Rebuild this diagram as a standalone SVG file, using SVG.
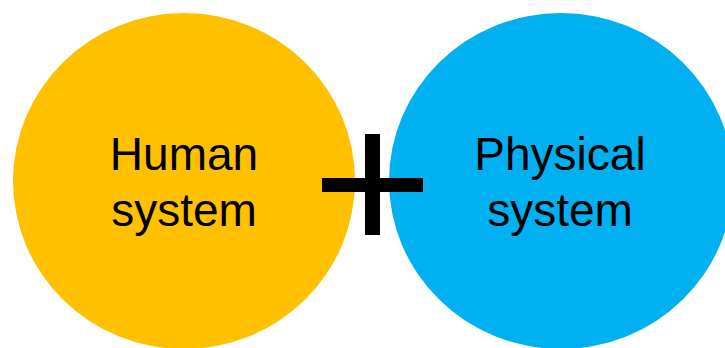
<svg xmlns="http://www.w3.org/2000/svg" width="725" height="348" viewBox="0 0 725 348">
<style>
.lbl{font-family:"Liberation Sans",Arial,sans-serif;font-size:46px;fill:#000;text-anchor:middle}
</style>
<rect width="725" height="348" fill="#fff"/>
<g id="human">
<ellipse cx="184" cy="181" rx="171" ry="168" fill="#FFC000"/>
<text class="lbl" x="184" y="170">Human</text>
<text class="lbl" x="184" y="226">system</text>
</g>
<g id="physical">
<ellipse cx="561" cy="181" rx="172" ry="168" fill="#00B0F0"/>
<text class="lbl" x="560" y="170">Physical</text>
<text class="lbl" x="560" y="226">system</text>
</g>
<g id="plus">
<rect x="322" y="178" width="101" height="14" fill="#000"/>
<rect x="365" y="134" width="15" height="101" fill="#000"/>
</g>
</svg>
